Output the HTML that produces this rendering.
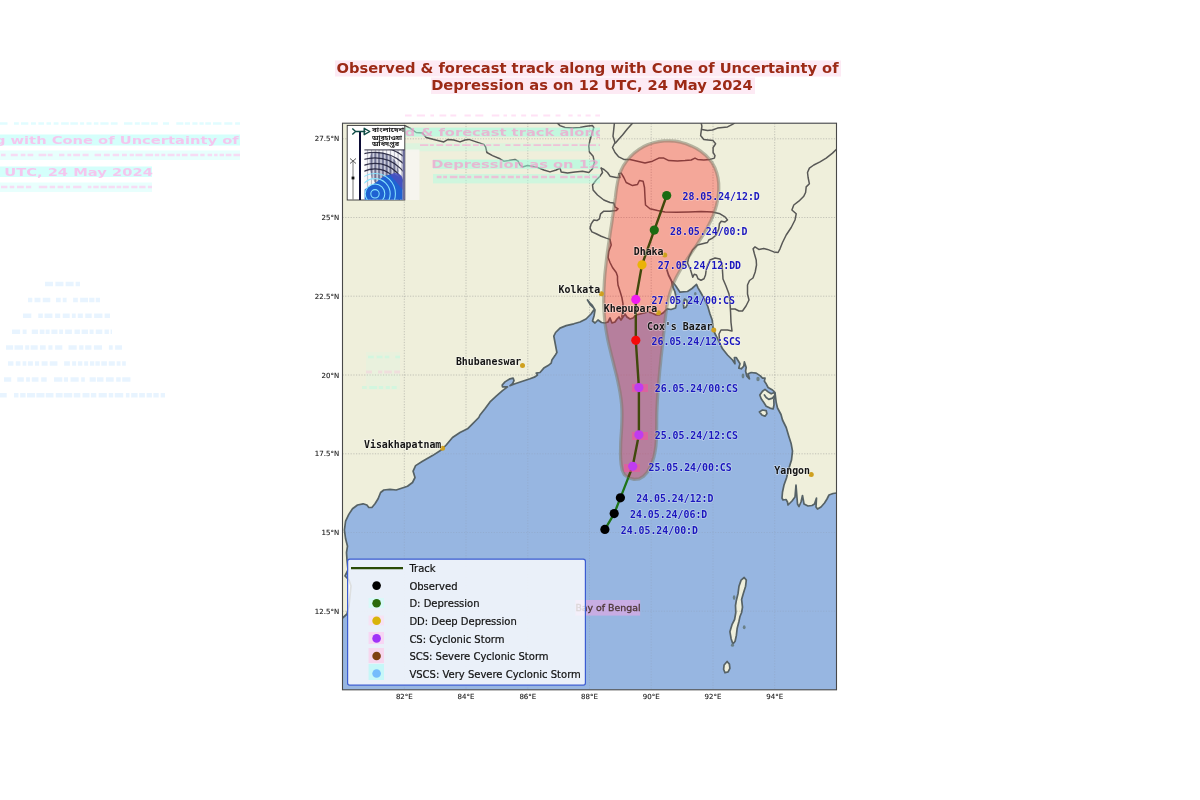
<!DOCTYPE html>
<html lang="en">
<head>
<meta charset="utf-8">
<title>Observed &amp; forecast track along with Cone of Uncertainty</title>
<style>
html,body{margin:0;padding:0;background:#fff;}
body{width:1200px;height:800px;overflow:hidden;}
svg{display:block;}
.title{font-family:'DejaVu Sans','Liberation Sans',sans-serif;font-weight:bold;font-size:14.7px;fill:#9c2a16;text-anchor:middle;}
.tick{font-family:'DejaVu Sans','Liberation Sans',sans-serif;font-size:7px;fill:#1c1c1c;stroke:#1c1c1c;stroke-width:0.12px;}
.lab{font-family:'DejaVu Sans Mono','Liberation Mono',monospace;font-weight:bold;font-size:9.9px;fill:#1a16be;stroke:#fff;stroke-opacity:0.35;stroke-width:1.4px;stroke-linejoin:round;paint-order:stroke;}
.city{font-family:'DejaVu Sans Mono','Liberation Mono',monospace;font-weight:bold;font-size:9.9px;fill:#141414;stroke:#fff;stroke-opacity:0.45;stroke-width:1.4px;stroke-linejoin:round;paint-order:stroke;text-anchor:end;}
.leg{font-family:'DejaVu Sans','Liberation Sans',sans-serif;font-size:10px;fill:#111;stroke:#111;stroke-width:0.2px;}
.bay{font-family:'DejaVu Sans','Liberation Sans',sans-serif;font-size:9.4px;fill:#4c3636;stroke:#4c3636;stroke-width:0.3px;}
.bn{font-family:'Noto Sans Bengali','DejaVu Sans','Liberation Sans',sans-serif;font-size:5.4px;font-weight:bold;fill:#222;}
.ghost text{font-family:'DejaVu Sans','Liberation Sans',sans-serif;font-weight:bold;font-size:14.7px;}
.coast{fill:none;stroke:#566266;stroke-width:1.7;stroke-linejoin:round;stroke-linecap:round;}
.border{fill:none;stroke:#585856;stroke-width:1.5;stroke-linejoin:round;stroke-linecap:round;}
.grid{fill:none;stroke:#808080;stroke-width:0.8;stroke-dasharray:1.2 1.5;opacity:0.5;}
</style>
</head>
<body>
<svg width="1200" height="800" viewBox="0 0 1200 800">
<rect width="1200" height="800" fill="#fff"/>
<rect x="335" y="60.5" width="506" height="16" fill="#fdeaf4"/>
<rect x="431" y="77.5" width="324" height="16.5" fill="#fdeaf4"/>
<text class="title" x="587.5" y="73.3">Observed &amp; forecast track along with Cone of Uncertainty of</text>
<text class="title" x="592" y="90.3">Depression as on 12 UTC, 24 May 2024</text>
<defs><clipPath id="mapclip"><rect x="342.5" y="123.2" width="494.0" height="566.5999999999999"/></clipPath></defs>
<g clip-path="url(#mapclip)">
<rect x="342.5" y="123.2" width="494.0" height="566.5999999999999" fill="#97b6e1"/>
<path d="M342.5,123.2 L836.5,123.2 L836.5,493.0 L833.0,493.5 L829.0,495.0 L827.0,499.0 L824.5,503.0 L821.0,507.0 L817.5,509.0 L816.0,507.0 L816.5,498.0 L814.5,504.0 L812.0,505.5 L808.0,506.0 L804.0,504.0 L802.5,495.5 L801.0,502.0 L799.0,506.5 L797.5,504.0 L796.0,485.0 L795.0,497.0 L792.0,501.0 L788.0,505.0 L787.5,502.0 L786.0,499.5 L783.0,500.0 L782.0,498.0 L782.5,492.0 L784.0,485.0 L786.5,478.0 L789.0,468.0 L791.5,460.0 L792.5,451.2 L791.2,443.8 L788.8,436.2 L786.2,427.5 L782.5,420.0 L781.0,414.5 L777.5,408.0 L776.2,402.5 L775.6,397.5 L775.0,392.5 L772.5,390.0 L768.1,387.5 L766.2,383.8 L764.4,381.2 L765.0,378.1 L762.5,378.1 L760.0,375.6 L756.2,373.1 L751.2,372.5 L748.1,373.8 L749.4,378.8 L746.9,376.2 L745.6,371.2 L746.2,367.5 L744.4,361.9 L743.8,366.2 L741.2,368.8 L738.8,368.1 L740.0,363.8 L736.2,357.5 L734.4,357.5 L735.0,363.8 L732.5,360.0 L727.5,355.0 L722.5,348.8 L718.8,341.2 L714.4,332.5 L713.0,327.5 L712.2,320.0 L710.0,314.0 L707.8,306.5 L704.8,299.8 L701.0,293.0 L698.0,287.8 L696.5,284.4 L692.0,288.5 L687.5,291.5 L680.0,292.2 L675.5,285.5 L672.5,281.8 L672.5,286.2 L674.8,291.5 L676.2,297.5 L676.6,303.5 L675.5,308.0 L671.0,309.5 L667.2,308.8 L665.0,311.0 L663.0,313.0 L659.0,315.0 L656.0,315.0 L652.0,313.0 L648.0,312.0 L644.0,313.0 L640.0,314.0 L636.0,315.0 L633.0,318.0 L630.0,319.0 L627.0,317.0 L625.0,314.0 L623.0,317.0 L621.0,320.0 L619.0,317.0 L617.0,319.0 L615.0,322.0 L612.0,323.0 L610.0,318.0 L608.0,322.0 L605.0,323.0 L601.5,322.5 L598.0,320.0 L595.0,323.0 L592.5,321.0 L594.0,316.0 L595.0,310.0 L592.0,305.0 L589.5,302.5 L587.5,300.0 L590.5,305.0 L594.5,309.0 L591.0,314.0 L586.0,319.0 L580.0,322.0 L573.8,323.8 L566.2,325.6 L560.0,328.1 L555.6,332.5 L553.8,336.2 L555.0,342.5 L556.2,348.8 L556.9,352.5 L555.0,355.6 L551.9,360.0 L551.2,363.1 L548.1,365.6 L543.8,368.1 L540.0,372.5 L536.2,373.1 L537.5,375.0 L535.0,376.9 L530.0,378.8 L522.5,381.2 L515.0,383.8 L510.0,385.6 L512.5,383.8 L514.0,380.6 L513.1,378.1 L510.0,378.8 L505.0,381.9 L502.2,385.0 L502.5,386.9 L507.5,386.9 L502.5,390.6 L496.2,396.2 L490.0,401.9 L485.0,408.8 L480.0,415.0 L478.8,417.5 L472.5,423.8 L467.5,428.8 L460.0,432.5 L452.5,437.5 L446.2,445.0 L441.2,450.0 L432.5,455.6 L422.5,461.2 L415.6,465.6 L413.1,471.2 L415.0,477.5 L412.5,482.5 L407.5,486.2 L403.8,487.5 L396.2,490.0 L390.0,489.4 L383.8,490.0 L380.6,492.5 L378.1,498.8 L375.0,503.8 L371.9,507.5 L368.8,507.5 L366.9,505.0 L363.1,503.8 L357.5,505.0 L352.5,508.8 L348.8,514.4 L345.6,521.2 L344.4,530.0 L345.6,538.8 L347.5,546.2 L346.5,552.5 L347.0,560.0 L348.0,570.0 L345.0,576.0 L349.0,580.0 L351.0,586.0 L350.0,596.0 L349.0,606.0 L347.0,614.0 L342.5,618.0 L342.5,618.0Z" fill="#efefdb"/>
<path d="M744.2,577.5 L746.3,580.1 L745.6,586.2 L743.4,593.2 L741.6,599.4 L742.5,607.2 L741.6,612.5 L739.9,616.8 L739.0,621.2 L737.2,628.2 L736.4,635.2 L735.1,641.3 L732.9,644.0 L731.1,638.7 L729.9,631.7 L732.0,624.7 L734.6,619.5 L735.8,612.5 L735.5,605.5 L736.4,600.2 L738.1,593.2 L739.0,586.2 L741.1,580.1Z" fill="#efefdb"/>
<path d="M727.1,661.5 L729.4,664.1 L729.9,668.4 L728.1,671.9 L725.0,672.8 L723.6,669.3 L724.1,665.0Z" fill="#efefdb"/>
<path d="M765.0,389.4 L762.5,391.2 L759.8,395.0 L761.2,398.8 L763.8,402.5 L766.2,406.2 L770.0,408.1 L773.1,409.0 L774.0,405.0 L773.8,400.0 L775.0,395.0 L774.4,392.5 L771.2,393.8 L768.1,391.9Z" fill="#efefdb"/>
<path d="M759.4,411.9 L762.5,410.0 L766.2,410.6 L766.9,413.8 L765.0,416.2 L761.9,415.0Z" fill="#efefdb"/>
<path d="M684.5,299.0 L686.8,300.5 L687.5,304.2 L686.0,307.2 L683.8,308.0 L683.4,303.5Z" fill="#efefdb"/>
<path class="grid" d="M404.3,123.2 V689.8"/>
<path class="grid" d="M466.0,123.2 V689.8"/>
<path class="grid" d="M527.8,123.2 V689.8"/>
<path class="grid" d="M589.5,123.2 V689.8"/>
<path class="grid" d="M651.2,123.2 V689.8"/>
<path class="grid" d="M713.0,123.2 V689.8"/>
<path class="grid" d="M774.7,123.2 V689.8"/>
<path class="grid" d="M342.5,611.2 H836.5"/>
<path class="grid" d="M342.5,532.5 H836.5"/>
<path class="grid" d="M342.5,453.8 H836.5"/>
<path class="grid" d="M342.5,375.0 H836.5"/>
<path class="grid" d="M342.5,296.2 H836.5"/>
<path class="grid" d="M342.5,217.5 H836.5"/>
<path class="grid" d="M342.5,138.8 H836.5"/>
<path d="M342.5,123.2 H836.5 V689.8 H342.5 Z M342.5,123.2 L836.5,123.2 L836.5,493.0 L833.0,493.5 L829.0,495.0 L827.0,499.0 L824.5,503.0 L821.0,507.0 L817.5,509.0 L816.0,507.0 L816.5,498.0 L814.5,504.0 L812.0,505.5 L808.0,506.0 L804.0,504.0 L802.5,495.5 L801.0,502.0 L799.0,506.5 L797.5,504.0 L796.0,485.0 L795.0,497.0 L792.0,501.0 L788.0,505.0 L787.5,502.0 L786.0,499.5 L783.0,500.0 L782.0,498.0 L782.5,492.0 L784.0,485.0 L786.5,478.0 L789.0,468.0 L791.5,460.0 L792.5,451.2 L791.2,443.8 L788.8,436.2 L786.2,427.5 L782.5,420.0 L781.0,414.5 L777.5,408.0 L776.2,402.5 L775.6,397.5 L775.0,392.5 L772.5,390.0 L768.1,387.5 L766.2,383.8 L764.4,381.2 L765.0,378.1 L762.5,378.1 L760.0,375.6 L756.2,373.1 L751.2,372.5 L748.1,373.8 L749.4,378.8 L746.9,376.2 L745.6,371.2 L746.2,367.5 L744.4,361.9 L743.8,366.2 L741.2,368.8 L738.8,368.1 L740.0,363.8 L736.2,357.5 L734.4,357.5 L735.0,363.8 L732.5,360.0 L727.5,355.0 L722.5,348.8 L718.8,341.2 L714.4,332.5 L713.0,327.5 L712.2,320.0 L710.0,314.0 L707.8,306.5 L704.8,299.8 L701.0,293.0 L698.0,287.8 L696.5,284.4 L692.0,288.5 L687.5,291.5 L680.0,292.2 L675.5,285.5 L672.5,281.8 L672.5,286.2 L674.8,291.5 L676.2,297.5 L676.6,303.5 L675.5,308.0 L671.0,309.5 L667.2,308.8 L665.0,311.0 L663.0,313.0 L659.0,315.0 L656.0,315.0 L652.0,313.0 L648.0,312.0 L644.0,313.0 L640.0,314.0 L636.0,315.0 L633.0,318.0 L630.0,319.0 L627.0,317.0 L625.0,314.0 L623.0,317.0 L621.0,320.0 L619.0,317.0 L617.0,319.0 L615.0,322.0 L612.0,323.0 L610.0,318.0 L608.0,322.0 L605.0,323.0 L601.5,322.5 L598.0,320.0 L595.0,323.0 L592.5,321.0 L594.0,316.0 L595.0,310.0 L592.0,305.0 L589.5,302.5 L587.5,300.0 L590.5,305.0 L594.5,309.0 L591.0,314.0 L586.0,319.0 L580.0,322.0 L573.8,323.8 L566.2,325.6 L560.0,328.1 L555.6,332.5 L553.8,336.2 L555.0,342.5 L556.2,348.8 L556.9,352.5 L555.0,355.6 L551.9,360.0 L551.2,363.1 L548.1,365.6 L543.8,368.1 L540.0,372.5 L536.2,373.1 L537.5,375.0 L535.0,376.9 L530.0,378.8 L522.5,381.2 L515.0,383.8 L510.0,385.6 L512.5,383.8 L514.0,380.6 L513.1,378.1 L510.0,378.8 L505.0,381.9 L502.2,385.0 L502.5,386.9 L507.5,386.9 L502.5,390.6 L496.2,396.2 L490.0,401.9 L485.0,408.8 L480.0,415.0 L478.8,417.5 L472.5,423.8 L467.5,428.8 L460.0,432.5 L452.5,437.5 L446.2,445.0 L441.2,450.0 L432.5,455.6 L422.5,461.2 L415.6,465.6 L413.1,471.2 L415.0,477.5 L412.5,482.5 L407.5,486.2 L403.8,487.5 L396.2,490.0 L390.0,489.4 L383.8,490.0 L380.6,492.5 L378.1,498.8 L375.0,503.8 L371.9,507.5 L368.8,507.5 L366.9,505.0 L363.1,503.8 L357.5,505.0 L352.5,508.8 L348.8,514.4 L345.6,521.2 L344.4,530.0 L345.6,538.8 L347.5,546.2 L346.5,552.5 L347.0,560.0 L348.0,570.0 L345.0,576.0 L349.0,580.0 L351.0,586.0 L350.0,596.0 L349.0,606.0 L347.0,614.0 L342.5,618.0 L342.5,618.0Z M744.2,577.5 L746.3,580.1 L745.6,586.2 L743.4,593.2 L741.6,599.4 L742.5,607.2 L741.6,612.5 L739.9,616.8 L739.0,621.2 L737.2,628.2 L736.4,635.2 L735.1,641.3 L732.9,644.0 L731.1,638.7 L729.9,631.7 L732.0,624.7 L734.6,619.5 L735.8,612.5 L735.5,605.5 L736.4,600.2 L738.1,593.2 L739.0,586.2 L741.1,580.1ZM727.1,661.5 L729.4,664.1 L729.9,668.4 L728.1,671.9 L725.0,672.8 L723.6,669.3 L724.1,665.0ZM765.0,389.4 L762.5,391.2 L759.8,395.0 L761.2,398.8 L763.8,402.5 L766.2,406.2 L770.0,408.1 L773.1,409.0 L774.0,405.0 L773.8,400.0 L775.0,395.0 L774.4,392.5 L771.2,393.8 L768.1,391.9ZM759.4,411.9 L762.5,410.0 L766.2,410.6 L766.9,413.8 L765.0,416.2 L761.9,415.0ZM684.5,299.0 L686.8,300.5 L687.5,304.2 L686.0,307.2 L683.8,308.0 L683.4,303.5Z" fill="#97b6e1" fill-rule="evenodd" fill-opacity="0.6"/>
<path class="coast" d="M836.5,493.0 L833.0,493.5 L829.0,495.0 L827.0,499.0 L824.5,503.0 L821.0,507.0 L817.5,509.0 L816.0,507.0 L816.5,498.0 L814.5,504.0 L812.0,505.5 L808.0,506.0 L804.0,504.0 L802.5,495.5 L801.0,502.0 L799.0,506.5 L797.5,504.0 L796.0,485.0 L795.0,497.0 L792.0,501.0 L788.0,505.0 L787.5,502.0 L786.0,499.5 L783.0,500.0 L782.0,498.0 L782.5,492.0 L784.0,485.0 L786.5,478.0 L789.0,468.0 L791.5,460.0 L792.5,451.2 L791.2,443.8 L788.8,436.2 L786.2,427.5 L782.5,420.0 L781.0,414.5 L777.5,408.0 L776.2,402.5 L775.6,397.5 L775.0,392.5 L772.5,390.0 L768.1,387.5 L766.2,383.8 L764.4,381.2 L765.0,378.1 L762.5,378.1 L760.0,375.6 L756.2,373.1 L751.2,372.5 L748.1,373.8 L749.4,378.8 L746.9,376.2 L745.6,371.2 L746.2,367.5 L744.4,361.9 L743.8,366.2 L741.2,368.8 L738.8,368.1 L740.0,363.8 L736.2,357.5 L734.4,357.5 L735.0,363.8 L732.5,360.0 L727.5,355.0 L722.5,348.8 L718.8,341.2 L714.4,332.5 L713.0,327.5 L712.2,320.0 L710.0,314.0 L707.8,306.5 L704.8,299.8 L701.0,293.0 L698.0,287.8 L696.5,284.4 L692.0,288.5 L687.5,291.5 L680.0,292.2 L675.5,285.5 L672.5,281.8 L672.5,286.2 L674.8,291.5 L676.2,297.5 L676.6,303.5 L675.5,308.0 L671.0,309.5 L667.2,308.8 L665.0,311.0 L663.0,313.0 L659.0,315.0 L656.0,315.0 L652.0,313.0 L648.0,312.0 L644.0,313.0 L640.0,314.0 L636.0,315.0 L633.0,318.0 L630.0,319.0 L627.0,317.0 L625.0,314.0 L623.0,317.0 L621.0,320.0 L619.0,317.0 L617.0,319.0 L615.0,322.0 L612.0,323.0 L610.0,318.0 L608.0,322.0 L605.0,323.0 L601.5,322.5 L598.0,320.0 L595.0,323.0 L592.5,321.0 L594.0,316.0 L595.0,310.0 L592.0,305.0 L589.5,302.5 L587.5,300.0 L590.5,305.0 L594.5,309.0 L591.0,314.0 L586.0,319.0 L580.0,322.0 L573.8,323.8 L566.2,325.6 L560.0,328.1 L555.6,332.5 L553.8,336.2 L555.0,342.5 L556.2,348.8 L556.9,352.5 L555.0,355.6 L551.9,360.0 L551.2,363.1 L548.1,365.6 L543.8,368.1 L540.0,372.5 L536.2,373.1 L537.5,375.0 L535.0,376.9 L530.0,378.8 L522.5,381.2 L515.0,383.8 L510.0,385.6 L512.5,383.8 L514.0,380.6 L513.1,378.1 L510.0,378.8 L505.0,381.9 L502.2,385.0 L502.5,386.9 L507.5,386.9 L502.5,390.6 L496.2,396.2 L490.0,401.9 L485.0,408.8 L480.0,415.0 L478.8,417.5 L472.5,423.8 L467.5,428.8 L460.0,432.5 L452.5,437.5 L446.2,445.0 L441.2,450.0 L432.5,455.6 L422.5,461.2 L415.6,465.6 L413.1,471.2 L415.0,477.5 L412.5,482.5 L407.5,486.2 L403.8,487.5 L396.2,490.0 L390.0,489.4 L383.8,490.0 L380.6,492.5 L378.1,498.8 L375.0,503.8 L371.9,507.5 L368.8,507.5 L366.9,505.0 L363.1,503.8 L357.5,505.0 L352.5,508.8 L348.8,514.4 L345.6,521.2 L344.4,530.0 L345.6,538.8 L347.5,546.2 L346.5,552.5 L347.0,560.0 L348.0,570.0 L345.0,576.0 L349.0,580.0 L351.0,586.0 L350.0,596.0 L349.0,606.0 L347.0,614.0 L342.5,618.0"/>
<path class="coast" d="M744.2,577.5 L746.3,580.1 L745.6,586.2 L743.4,593.2 L741.6,599.4 L742.5,607.2 L741.6,612.5 L739.9,616.8 L739.0,621.2 L737.2,628.2 L736.4,635.2 L735.1,641.3 L732.9,644.0 L731.1,638.7 L729.9,631.7 L732.0,624.7 L734.6,619.5 L735.8,612.5 L735.5,605.5 L736.4,600.2 L738.1,593.2 L739.0,586.2 L741.1,580.1Z"/>
<path class="coast" d="M727.1,661.5 L729.4,664.1 L729.9,668.4 L728.1,671.9 L725.0,672.8 L723.6,669.3 L724.1,665.0Z"/>
<path class="coast" d="M765.0,389.4 L762.5,391.2 L759.8,395.0 L761.2,398.8 L763.8,402.5 L766.2,406.2 L770.0,408.1 L773.1,409.0 L774.0,405.0 L773.8,400.0 L775.0,395.0 L774.4,392.5 L771.2,393.8 L768.1,391.9Z"/>
<path class="coast" d="M759.4,411.9 L762.5,410.0 L766.2,410.6 L766.9,413.8 L765.0,416.2 L761.9,415.0Z"/>
<path class="coast" d="M684.5,299.0 L686.8,300.5 L687.5,304.2 L686.0,307.2 L683.8,308.0 L683.4,303.5Z"/>
<ellipse cx="734.1" cy="597.6" rx="1.3" ry="2.4" fill="#6a8088"/>
<ellipse cx="744.2" cy="627.3" rx="1.4" ry="2.0" fill="#6a8088"/>
<ellipse cx="732.5" cy="645.2" rx="1.6" ry="1.6" fill="#6a8088"/>
<ellipse cx="743" cy="376" rx="1.4" ry="2.4" fill="#6a8088"/>
<ellipse cx="758" cy="379" rx="1.7" ry="2.2" fill="#6a8088"/>
<ellipse cx="695.3" cy="293.7" rx="1.3" ry="1.6" fill="#6a8088"/>
<path class="coast" d="M764.4,395.0 L766.2,397.5 L768.8,399.4 L772.5,398.1 L775.0,395.0"/>
<path class="coast" d="M673.0,287.0 L671.5,281.0 L668.5,275.0 L666.5,268.5" stroke-width="1.8"/>
<path class="border" d="M405.0,125.6 L410.0,128.1 L416.2,132.5 L422.5,133.1 L426.2,137.5 L433.8,139.4 L443.8,141.9 L448.1,139.4 L453.8,140.0 L460.0,141.9 L465.0,140.0 L468.8,139.4 L476.2,141.9 L483.8,144.4 L485.6,146.9 L486.9,152.5 L492.5,155.6 L500.0,158.8 L503.8,161.2 L508.8,160.6 L515.0,159.4 L518.1,161.2 L520.0,165.0 L522.5,166.9 L527.5,165.6 L536.2,166.9 L543.8,170.0 L550.0,171.9 L556.2,170.0 L560.0,168.1 L561.2,171.9 L567.5,173.1 L575.0,171.9 L582.5,171.2 L588.8,172.5 L592.5,168.8 L594.4,162.5 L593.1,156.2 L589.4,151.9 L588.8,146.2 L590.0,140.0 L591.9,133.8 L593.8,127.5 L592.5,125.6 L586.2,126.2 L580.0,127.5 L572.5,128.1 L565.0,127.5 L560.0,125.6 L557.5,123.2"/>
<path class="border" d="M614.4,123.2 L613.8,128.8 L613.0,136.2 L615.0,142.5 L612.5,147.5 L615.0,152.5 L618.8,156.9 L623.8,159.4 L630.0,159.4 L637.5,161.2 L645.0,163.1 L652.5,161.2 L658.8,158.1 L663.8,158.1 L668.8,160.6 L677.5,161.0 L685.0,160.6 L691.2,160.0 L695.0,158.1 L697.5,159.4 L703.8,160.0 L710.0,159.4 L714.4,158.1 L715.0,155.6 L713.1,152.5 L713.1,147.5 L715.6,143.8 L713.1,140.6 L708.1,140.0 L703.8,139.4 L700.6,135.6 L701.2,131.2 L701.9,126.2 L701.2,123.2"/>
<path class="border" d="M615.5,143.0 L618.0,140.0 L622.5,135.0 L627.5,128.8 L632.5,123.2"/>
<path class="border" d="M701.9,129.4 L707.5,130.6 L712.5,130.0 L717.5,128.1 L722.5,127.5 L727.5,126.9 L732.5,124.4 L734.4,123.2"/>
<path class="border" d="M601.2,168.1 L602.5,172.5 L600.0,176.2 L596.2,180.0 L592.5,185.0 L593.1,190.0 L597.5,195.0 L603.8,200.0 L610.0,202.5 L613.8,203.1 L615.0,206.9 L618.1,208.8 L616.2,210.6 L610.0,211.2 L603.8,211.2 L600.6,213.8 L599.4,218.8 L596.9,220.6 L593.8,220.0 L591.2,223.8 L590.0,228.1 L591.9,231.9 L596.2,233.8 L601.2,236.2 L606.2,238.1 L610.0,239.4 L611.2,245.0 L608.8,251.2 L608.1,257.5 L610.0,262.5 L612.5,267.5 L616.2,272.5 L617.5,276.2 L617.5,280.0 L618.0,285.0 L620.0,291.2 L621.9,297.5 L623.0,303.8 L622.5,310.0 L621.9,317.0"/>
<path class="border" d="M601.2,168.1 L604.0,169.5 L607.5,172.5 L610.0,176.2 L616.2,177.5 L620.0,177.5 L618.8,173.8 L621.2,173.1 L623.8,177.5 L626.2,182.5 L632.5,185.6 L637.5,184.5 L639.4,180.5 L643.1,181.2 L644.5,187.5 L645.0,197.5 L645.5,205.0 L650.0,208.8 L657.5,210.6 L665.0,211.9 L676.2,212.2 L688.8,211.9 L701.2,211.5 L712.5,211.9 L720.0,213.8 L725.0,216.9 L727.5,220.0 L725.0,221.9 L721.2,221.2 L719.4,223.8 L718.8,228.8 L716.2,235.0 L712.5,238.1 L708.8,240.0 L707.5,242.5 L702.5,243.8 L697.5,245.0 L692.5,250.0 L688.8,257.5 L687.5,263.0 L690.5,269.8 L692.8,277.2 L694.2,274.2 L696.5,275.0 L698.0,278.8 L701.0,280.2 L704.0,278.8 L705.5,275.0 L706.2,269.8 L707.8,264.5 L710.0,260.0 L715.0,258.0 L720.0,259.0 L722.0,264.0 L722.5,271.0 L723.0,279.0 L726.0,286.0 L729.0,294.0 L730.0,302.5 L730.6,312.5 L731.0,322.5 L732.0,331.0 L727.5,330.0 L721.0,330.0 L719.0,334.0 L719.5,340.0"/>
<path class="border" d="M836.5,149.2 L832.5,153.1 L826.2,158.1 L820.0,161.9 L813.8,165.0 L809.4,168.1 L807.5,172.5 L808.1,177.5 L809.4,183.8 L806.2,186.9 L805.6,192.5 L803.8,196.2 L798.8,201.2 L793.8,205.0 L791.9,210.0 L796.2,213.8 L795.0,220.0 L791.2,227.5 L786.2,235.0 L782.5,242.5 L780.0,248.8 L778.1,252.5 L773.8,251.9 L767.5,249.4 L763.8,248.5 L758.8,249.4 L755.0,246.9 L753.1,248.8 L754.4,253.8 L756.2,260.0 L756.5,265.0 L755.2,272.0 L753.0,278.0 L749.5,280.5 L747.5,285.0 L747.5,294.0 L749.0,300.0 L746.0,306.0 L742.5,311.0 L739.0,311.0 L735.0,309.0 L731.0,309.0"/>
<path d="M615.4,197.3 L614.6,202.8 L613.9,208.3 L613.1,213.8 L612.3,219.3 L611.5,224.7 L610.6,230.2 L609.8,235.7 L609.0,241.2 L608.2,246.7 L607.4,252.2 L606.7,257.7 L606.1,263.2 L605.5,268.6 L604.9,274.1 L604.5,279.6 L604.2,285.1 L603.9,290.5 L603.8,296.0 L603.7,301.4 L603.8,306.9 L604.1,312.3 L604.5,317.8 L605.0,323.2 L605.8,328.6 L606.7,334.0 L607.7,339.4 L608.9,344.8 L610.2,350.2 L611.5,355.6 L612.9,361.0 L614.2,366.4 L615.6,371.8 L616.9,377.2 L618.1,382.6 L619.2,388.0 L620.2,393.4 L621.0,398.9 L621.6,404.4 L621.9,409.8 L622.0,415.3 L621.9,420.8 L621.7,426.3 L621.4,431.9 L621.0,437.4 L620.7,442.9 L620.6,448.4 L620.5,453.9 L620.7,459.4 L621.2,464.8 L622.2,470.1 L624.4,474.8 L628.8,478.0 L634.2,479.4 L639.2,478.8 L643.5,476.3 L647.1,472.5 L649.9,467.7 L652.2,462.3 L653.9,456.9 L655.1,451.4 L655.9,446.0 L656.3,440.4 L656.6,434.9 L656.6,429.4 L656.7,423.9 L656.7,418.4 L656.8,412.9 L657.0,407.4 L657.3,401.9 L657.6,396.5 L658.0,391.0 L658.4,385.5 L658.9,380.1 L659.4,374.6 L659.9,369.2 L660.5,363.7 L661.0,358.2 L661.6,352.8 L662.2,347.3 L662.8,341.8 L663.4,336.2 L664.0,330.7 L664.6,325.1 L665.1,319.6 L665.8,314.1 L666.6,308.6 L667.5,303.1 L668.7,297.8 L670.1,292.5 L671.8,287.4 L673.9,282.4 L676.2,277.5 L678.8,272.7 L681.5,268.0 L684.4,263.3 L687.5,258.7 L690.5,254.1 L693.7,249.4 L696.8,244.8 L699.8,240.2 L702.8,235.5 L705.6,230.7 L708.3,225.9 L710.8,220.9 L713.0,215.9 L714.9,210.7 L716.5,205.4 L717.7,199.9 L718.5,194.3 L718.8,188.8 L718.7,183.3 L718.0,177.9 L716.7,172.7 L714.9,167.7 L712.3,163.1 L709.1,158.8 L705.4,154.9 L701.1,151.4 L696.4,148.4 L691.3,145.9 L686.0,143.8 L680.6,142.2 L675.0,141.2 L669.5,140.8 L664.0,140.9 L658.6,141.6 L653.3,142.8 L648.1,144.5 L643.2,146.8 L638.5,149.7 L634.0,153.1 L630.0,157.0 L626.4,161.3 L623.3,165.9 L620.9,170.8 L619.1,175.9 L617.8,181.1 L616.8,186.5 L616.0,191.9Z" fill="#ff0000" fill-opacity="0.3"/>
<path d="M615.4,197.3 L614.6,202.8 L613.9,208.3 L613.1,213.8 L612.3,219.3 L611.5,224.7 L610.6,230.2 L609.8,235.7 L609.0,241.2 L608.2,246.7 L607.4,252.2 L606.7,257.7 L606.1,263.2 L605.5,268.6 L604.9,274.1 L604.5,279.6 L604.2,285.1 L603.9,290.5 L603.8,296.0 L603.7,301.4 L603.8,306.9 L604.1,312.3 L604.5,317.8 L605.0,323.2 L605.8,328.6 L606.7,334.0 L607.7,339.4 L608.9,344.8 L610.2,350.2 L611.5,355.6 L612.9,361.0 L614.2,366.4 L615.6,371.8 L616.9,377.2 L618.1,382.6 L619.2,388.0 L620.2,393.4 L621.0,398.9 L621.6,404.4 L621.9,409.8 L622.0,415.3 L621.9,420.8 L621.7,426.3 L621.4,431.9 L621.0,437.4 L620.7,442.9 L620.6,448.4 L620.5,453.9 L620.7,459.4 L621.2,464.8 L622.2,470.1 L624.4,474.8 L628.8,478.0 L634.2,479.4 L639.2,478.8 L643.5,476.3 L647.1,472.5 L649.9,467.7 L652.2,462.3 L653.9,456.9 L655.1,451.4 L655.9,446.0 L656.3,440.4 L656.6,434.9 L656.6,429.4 L656.7,423.9 L656.7,418.4 L656.8,412.9 L657.0,407.4 L657.3,401.9 L657.6,396.5 L658.0,391.0 L658.4,385.5 L658.9,380.1 L659.4,374.6 L659.9,369.2 L660.5,363.7 L661.0,358.2 L661.6,352.8 L662.2,347.3 L662.8,341.8 L663.4,336.2 L664.0,330.7 L664.6,325.1 L665.1,319.6 L665.8,314.1 L666.6,308.6 L667.5,303.1 L668.7,297.8 L670.1,292.5 L671.8,287.4 L673.9,282.4 L676.2,277.5 L678.8,272.7 L681.5,268.0 L684.4,263.3 L687.5,258.7 L690.5,254.1 L693.7,249.4 L696.8,244.8 L699.8,240.2 L702.8,235.5 L705.6,230.7 L708.3,225.9 L710.8,220.9 L713.0,215.9 L714.9,210.7 L716.5,205.4 L717.7,199.9 L718.5,194.3 L718.8,188.8 L718.7,183.3 L718.0,177.9 L716.7,172.7 L714.9,167.7 L712.3,163.1 L709.1,158.8 L705.4,154.9 L701.1,151.4 L696.4,148.4 L691.3,145.9 L686.0,143.8 L680.6,142.2 L675.0,141.2 L669.5,140.8 L664.0,140.9 L658.6,141.6 L653.3,142.8 L648.1,144.5 L643.2,146.8 L638.5,149.7 L634.0,153.1 L630.0,157.0 L626.4,161.3 L623.3,165.9 L620.9,170.8 L619.1,175.9 L617.8,181.1 L616.8,186.5 L616.0,191.9Z" fill="none" stroke="#7a7866" stroke-opacity="0.5" stroke-width="3.2" stroke-linejoin="round"/>
<path d="M604.9,529.4 L614.2,513.6 L620.4,497.8 L628.4,477.3" fill="none" stroke="#1f7418" stroke-width="2.3" stroke-linejoin="round"/>
<path d="M628.4,477.3 L632.7,466.3 L638.9,434.8 L638.9,387.6 L635.8,340.3 L635.8,299.4 L642.0,264.8 L654.3,230.1 L666.7,195.5" fill="none" stroke="#40480c" stroke-width="2.4" stroke-linejoin="round"/>
<rect x="632" y="384" width="16" height="8" fill="#f4509e" opacity="0.6"/>
<rect x="632" y="432" width="16" height="8" fill="#f4509e" opacity="0.6"/>
<rect x="624" y="464" width="16" height="8" fill="#f4509e" opacity="0.6"/>
<circle cx="604.9" cy="529.4" r="4.6" fill="#000000"/>
<circle cx="614.2" cy="513.6" r="4.6" fill="#000000"/>
<circle cx="620.4" cy="497.8" r="4.6" fill="#000000"/>
<circle cx="632.7" cy="466.3" r="4.6" fill="#c03cf0"/>
<circle cx="638.9" cy="434.8" r="4.6" fill="#c03cf0"/>
<circle cx="638.9" cy="387.6" r="4.6" fill="#c03cf0"/>
<circle cx="635.8" cy="340.3" r="4.6" fill="#f50a0a"/>
<circle cx="635.8" cy="299.4" r="4.6" fill="#f01cf0"/>
<circle cx="642.0" cy="264.8" r="4.6" fill="#eab308"/>
<circle cx="654.3" cy="230.1" r="4.6" fill="#1b6b12"/>
<circle cx="666.7" cy="195.5" r="4.6" fill="#1b6b12"/>
<circle cx="664.75" cy="255" r="2.5" fill="#cfa01e"/>
<circle cx="601.4" cy="293.7" r="2.5" fill="#cfa01e"/>
<circle cx="522.5" cy="365.6" r="2.5" fill="#cfa01e"/>
<circle cx="442.5" cy="448.3" r="2.5" fill="#cfa01e"/>
<circle cx="811.25" cy="474.4" r="2.5" fill="#cfa01e"/>
<circle cx="713.75" cy="330" r="2.5" fill="#cfa01e"/>
<circle cx="658.5" cy="312.8" r="2.5" fill="#cfa01e"/>
<rect x="575.4" y="600" width="64.8" height="15.6" fill="#e9a6e4" opacity="0.6"/>
<text class="bay" x="575.4" y="610.9">Bay of Bengal</text>
<g>
<text class="city" x="663.5" y="254.6">Dhaka</text>
<text class="city" x="600.2" y="293.3">Kolkata</text>
<text class="city" x="521.3" y="365.2">Bhubaneswar</text>
<text class="city" x="441.3" y="447.9">Visakhapatnam</text>
<text class="city" x="810.0" y="474.0">Yangon</text>
<text class="city" x="712.5" y="329.6">Cox's Bazar</text>
<text class="city" x="657.3" y="312.4">Khepupara</text>
<text class="lab" x="620.7" y="533.8">24.05.24/00:D</text>
<text class="lab" x="630.0" y="518.0">24.05.24/06:D</text>
<text class="lab" x="636.2" y="502.2">24.05.24/12:D</text>
<text class="lab" x="648.5" y="470.7">25.05.24/00:CS</text>
<text class="lab" x="654.7" y="439.2">25.05.24/12:CS</text>
<text class="lab" x="654.7" y="392.0">26.05.24/00:CS</text>
<text class="lab" x="651.6" y="344.7">26.05.24/12:SCS</text>
<text class="lab" x="651.6" y="303.8">27.05.24/00:CS</text>
<text class="lab" x="657.8" y="269.1">27.05.24/12:DD</text>
<text class="lab" x="670.1" y="234.5">28.05.24/00:D</text>
<text class="lab" x="682.5" y="199.9">28.05.24/12:D</text>
</g>
<g id="ghost-map">
<clipPath id="gc1"><rect x="405" y="123.5" width="195" height="62"/></clipPath>
<rect x="405" y="127.6" width="195" height="9" fill="#9dffe0" opacity="0.55"/>
<rect x="405" y="143.2" width="195" height="8" fill="#b4ffe6" opacity="0.3"/>
<path d="M420.0,145.2 H428.3 M429.9,145.2 H433.8 M436.4,145.2 H443.2 M445.7,145.2 H452.2 M453.9,145.2 H459.6 M462.2,145.2 H470.6 M473.0,145.2 H478.7 M480.2,145.2 H483.9 M485.8,145.2 H491.2 M493.5,145.2 H499.8 M505.4,145.2 H510.5 M513.5,145.2 H520.4 M523.2,145.2 H530.7 M533.6,145.2 H540.9 M542.9,145.2 H551.3 M553.1,145.2 H560.3 M562.5,145.2 H568.7 M571.6,145.2 H577.6 M579.6,145.2 H587.5 M589.7,145.2 H596.0 M598.6,145.2 H600.0" stroke="#ff9ed2" stroke-width="1.8" opacity="0.6" fill="none"/>
<rect x="433" y="159.6" width="167" height="9.2" fill="#9dffe0" opacity="0.55"/>
<rect x="433" y="174" width="167" height="9.4" fill="#a8ffe2" opacity="0.45"/>
<path d="M436.8,177 H441.5 M443.2,177 H447.0 M449.9,177 H457.4 M459.2,177 H465.4 M467.2,177 H471.2 M474.1,177 H481.8 M484.5,177 H488.9 M491.4,177 H498.5 M501.3,177 H505.3 M507.8,177 H513.8 M516.0,177 H520.0 M522.8,177 H529.0 M531.9,177 H538.2 M541.0,177 H547.0 M549.4,177 H555.1 M560.2,177 H567.7 M570.2,177 H575.1 M577.3,177 H582.5 M584.3,177 H589.8 M592.3,177 H597.2 M599.8,177 H600.0" stroke="#ff9ed2" stroke-width="2.4" opacity="0.6" fill="none"/>
<g clip-path="url(#gc1)" class="ghost" aria-hidden="true">
<text transform="translate(587.5,136.2) scale(1,0.74)" text-anchor="middle" fill="#ff8fcb" opacity="0.6">Observed &amp; forecast track along with Cone of Uncertainty of</text>
<text transform="translate(592,168.3) scale(1,0.74)" text-anchor="middle" fill="#ff8fcb" opacity="0.6">Depression as on 12 UTC, 24 May 2024</text>
</g>
<rect x="366" y="352" width="34" height="38" fill="#c8ffe8" opacity="0.14"/>
<path d="M368.0,357 H373.8 M376.6,357 H382.5 M384.9,357 H389.3 M395.3,357 H400.0" stroke="#a8ffe2" stroke-width="2.5" opacity="0.35" fill="none"/>
<path d="M366.0,372 H371.9 M378.1,372 H382.3 M384.2,372 H391.8 M394.2,372 H400.0" stroke="#ffb4dc" stroke-width="3" opacity="0.3" fill="none"/>
<path d="M362.0,387.5 H366.8 M369.3,387.5 H377.1 M378.9,387.5 H383.1 M385.8,387.5 H389.9 M391.7,387.5 H396.7" stroke="#a8ffe2" stroke-width="3" opacity="0.35" fill="none"/>
</g>
</g>
<rect x="342.5" y="123.2" width="494.0" height="566.5999999999999" fill="none" stroke="#484848" stroke-width="1.1"/>
<g id="ghost-bg">
<path d="M405.0,115.5 H411.6 M416.8,115.5 H425.0 M430.4,115.5 H434.0 M439.5,115.5 H446.2 M450.4,115.5 H456.2 M464.5,115.5 H470.8 M475.3,115.5 H483.3 M491.8,115.5 H499.3 M503.5,115.5 H507.0 M511.3,115.5 H515.9 M521.2,115.5 H526.1 M531.0,115.5 H537.8 M543.3,115.5 H550.2 M555.6,115.5 H560.5 M568.4,115.5 H572.6 M577.5,115.5 H581.0 M585.6,115.5 H590.6 M595.3,115.5 H600.0" stroke="#ffc6ec" stroke-width="1.8" opacity="0.5" fill="none"/>
<path d="M0.0,123.5 H7.5 M14.0,123.5 H18.8 M21.0,123.5 H28.3 M31.0,123.5 H35.9 M38.4,123.5 H44.0 M46.5,123.5 H51.0 M53.7,123.5 H58.5 M61.1,123.5 H68.8 M70.4,123.5 H77.9 M80.1,123.5 H84.1 M86.5,123.5 H91.5 M93.9,123.5 H98.4 M100.4,123.5 H108.6 M110.8,123.5 H117.6 M124.0,123.5 H132.4 M134.8,123.5 H139.8 M141.4,123.5 H149.3 M151.0,123.5 H157.8 M163.0,123.5 H169.0 M176.3,123.5 H183.3 M184.8,123.5 H190.0 M192.4,123.5 H197.5 M199.5,123.5 H203.7 M205.3,123.5 H210.9 M213.0,123.5 H221.4 M224.3,123.5 H232.3 M235.1,123.5 H240.0" stroke="#cdfaff" stroke-width="2.6" opacity="0.6" fill="none"/>
<rect x="0" y="134.5" width="240" height="11" fill="#c6fffa" opacity="0.75"/>
<rect x="0" y="150.5" width="240" height="9.5" fill="#d8fffb" opacity="0.6"/>
<path d="M1.0,155 H5.6 M10.8,155 H17.8 M20.8,155 H25.4 M27.6,155 H33.3 M38.6,155 H46.3 M47.8,155 H52.6 M59.0,155 H64.4 M67.4,155 H71.2 M73.2,155 H80.1 M82.6,155 H88.6 M94.6,155 H101.0 M103.9,155 H109.8 M112.7,155 H119.1 M122.0,155 H126.9 M129.7,155 H133.9 M135.5,155 H142.5 M145.4,155 H153.1 M154.9,155 H159.2 M161.4,155 H165.3 M167.6,155 H174.6 M176.4,155 H180.0 M181.9,155 H187.5 M190.3,155 H198.2 M200.3,155 H204.6 M207.6,155 H212.1 M214.1,155 H217.6 M219.6,155 H224.0 M225.8,155 H231.4 M233.5,155 H240.0" stroke="#ffc8f0" stroke-width="2.6" opacity="0.65" fill="none"/>
<rect x="0" y="166.5" width="152" height="10.5" fill="#c6fffa" opacity="0.75"/>
<rect x="0" y="182.5" width="152" height="9.5" fill="#d8fffb" opacity="0.6"/>
<path d="M1.0,187 H7.4 M9.7,187 H14.3 M17.0,187 H23.8 M26.0,187 H31.2 M38.8,187 H47.3 M49.7,187 H55.1 M57.6,187 H63.4 M65.9,187 H70.1 M73.1,187 H81.4 M87.8,187 H91.4 M93.3,187 H98.7 M100.6,187 H106.9 M108.5,187 H114.9 M116.6,187 H121.2 M122.8,187 H128.8 M131.3,187 H137.4 M139.2,187 H145.5 M147.9,187 H152.0" stroke="#ffc8f0" stroke-width="2.6" opacity="0.65" fill="none"/>
<g class="ghost" aria-hidden="true">
<text transform="translate(-12.5,144.4) scale(1,0.74)" text-anchor="middle" fill="#ffb4ea" opacity="0.75">Observed &amp; forecast track along with Cone of Uncertainty of</text>
<text transform="translate(-8,176.3) scale(1,0.74)" text-anchor="middle" fill="#ffb4ea" opacity="0.75">Depression as on 12 UTC, 24 May 2024</text>
</g>
<path d="M45.0,284.0 H53.0 M55.4,284.0 H63.4 M65.6,284.0 H73.6 M75.6,284.0 H80.0" stroke="#e2f1ff" stroke-width="4.5" opacity="0.8" fill="none"/>
<path d="M28.0,299.9 H32.3 M34.5,299.9 H40.4 M42.8,299.9 H50.3 M56.0,299.9 H60.7 M62.8,299.9 H66.6 M73.1,299.9 H77.8 M80.1,299.9 H88.0 M89.2,299.9 H94.4 M95.8,299.9 H100.0" stroke="#e2f1ff" stroke-width="4.5" opacity="0.8" fill="none"/>
<path d="M23.0,315.8 H31.3 M38.3,315.8 H42.8 M44.5,315.8 H52.4 M55.1,315.8 H60.2 M62.8,315.8 H69.7 M71.9,315.8 H75.7 M77.8,315.8 H82.8 M85.3,315.8 H91.7 M94.1,315.8 H102.4 M104.6,315.8 H110.0" stroke="#e2f1ff" stroke-width="4.5" opacity="0.8" fill="none"/>
<path d="M12.0,331.7 H20.1 M22.7,331.7 H26.6 M31.8,331.7 H38.0 M39.8,331.7 H44.4 M45.7,331.7 H49.6 M51.4,331.7 H57.5 M59.2,331.7 H63.0 M65.1,331.7 H71.9 M74.5,331.7 H79.9 M81.6,331.7 H88.0 M89.6,331.7 H93.6 M95.8,331.7 H102.3 M104.5,331.7 H108.9 M110.6,331.7 H112.0" stroke="#e2f1ff" stroke-width="4.5" opacity="0.8" fill="none"/>
<path d="M6.0,347.6 H13.1 M14.5,347.6 H23.0 M25.2,347.6 H29.2 M30.6,347.6 H37.7 M40.0,347.6 H45.7 M48.4,347.6 H52.5 M55.1,347.6 H62.3 M68.5,347.6 H76.7 M79.2,347.6 H83.5 M85.2,347.6 H91.4 M93.9,347.6 H102.0 M108.9,347.6 H112.7 M115.1,347.6 H122.0" stroke="#e2f1ff" stroke-width="4.5" opacity="0.8" fill="none"/>
<path d="M8.0,363.5 H13.4 M15.8,363.5 H20.4 M22.6,363.5 H26.3 M27.9,363.5 H32.9 M35.0,363.5 H39.1 M41.6,363.5 H47.6 M49.8,363.5 H57.4 M64.1,363.5 H69.9 M72.1,363.5 H76.1 M77.9,363.5 H82.3 M84.2,363.5 H88.1 M90.0,363.5 H94.2 M95.4,363.5 H99.8 M101.3,363.5 H106.9 M108.8,363.5 H114.8 M116.7,363.5 H120.5 M122.1,363.5 H125.8" stroke="#e2f1ff" stroke-width="4.5" opacity="0.8" fill="none"/>
<path d="M4.0,379.4 H11.2 M17.3,379.4 H23.8 M26.1,379.4 H29.9 M31.8,379.4 H38.5 M41.2,379.4 H46.7 M54.0,379.4 H62.3 M63.9,379.4 H68.0 M70.5,379.4 H78.7 M81.2,379.4 H84.8 M89.6,379.4 H95.8 M97.0,379.4 H103.5 M105.9,379.4 H113.7 M116.2,379.4 H120.7 M122.2,379.4 H130.4" stroke="#e2f1ff" stroke-width="4.5" opacity="0.8" fill="none"/>
<path d="M0.0,395.3 H6.7 M14.0,395.3 H18.5 M20.2,395.3 H25.6 M27.0,395.3 H35.1 M36.4,395.3 H44.5 M45.8,395.3 H53.5 M55.8,395.3 H62.6 M63.8,395.3 H72.2 M73.8,395.3 H80.3 M82.5,395.3 H89.5 M90.9,395.3 H96.3 M98.7,395.3 H106.8 M108.8,395.3 H113.2 M114.8,395.3 H123.2 M125.9,395.3 H129.5 M131.2,395.3 H137.6 M139.2,395.3 H144.9 M146.6,395.3 H151.9 M153.4,395.3 H158.7 M160.7,395.3 H165.0" stroke="#e2f1ff" stroke-width="4.5" opacity="0.8" fill="none"/>
</g>
<g id="logo">
<rect x="405" y="149.5" width="14.5" height="50.5" fill="#f6f5f0" opacity="0.9"/>
<rect x="347.2" y="125.4" width="57.6" height="74.6" fill="#fff" stroke="#333" stroke-width="0.9"/>
<clipPath id="lg"><rect x="364.4" y="149.8" width="38.4" height="50"/></clipPath>
<g clip-path="url(#lg)">
<rect x="364.4" y="149.8" width="38.4" height="50" fill="#eeeef4"/>
<path d="M371,153.5 L377,151.5 L384,153 L391,156 L396.5,162 L398.5,171 L396,180 L391,187 L384,190 L377,186 L372,178 L369.5,168 L369,159 Z" fill="#8588a8"/>
<path d="M365.8,150 V200" stroke="#fff" stroke-width="1.5" opacity="0.6"/>
<path d="M369.6,150 V200" stroke="#fff" stroke-width="1.5" opacity="0.6"/>
<path d="M373.4,150 V200" stroke="#fff" stroke-width="1.5" opacity="0.6"/>
<path d="M377.2,150 V200" stroke="#fff" stroke-width="1.5" opacity="0.6"/>
<path d="M381.0,150 V200" stroke="#fff" stroke-width="1.5" opacity="0.6"/>
<path d="M384.8,150 V200" stroke="#fff" stroke-width="1.5" opacity="0.6"/>
<path d="M388.6,150 V200" stroke="#fff" stroke-width="1.5" opacity="0.6"/>
<path d="M392.4,150 V200" stroke="#fff" stroke-width="1.5" opacity="0.6"/>
<path d="M396.2,150 V200" stroke="#fff" stroke-width="1.5" opacity="0.6"/>
<path d="M400.0,150 V200" stroke="#fff" stroke-width="1.5" opacity="0.6"/>
<path d="M403.8,150 V200" stroke="#fff" stroke-width="1.5" opacity="0.6"/>
<path d="M367.7,150 V200" stroke="#2a2a44" stroke-width="0.5" opacity="0.55"/>
<path d="M371.5,150 V200" stroke="#2a2a44" stroke-width="0.5" opacity="0.55"/>
<path d="M375.3,150 V200" stroke="#2a2a44" stroke-width="0.5" opacity="0.55"/>
<path d="M379.1,150 V200" stroke="#2a2a44" stroke-width="0.5" opacity="0.55"/>
<path d="M382.9,150 V200" stroke="#2a2a44" stroke-width="0.5" opacity="0.55"/>
<path d="M386.7,150 V200" stroke="#2a2a44" stroke-width="0.5" opacity="0.55"/>
<path d="M390.5,150 V200" stroke="#2a2a44" stroke-width="0.5" opacity="0.55"/>
<path d="M394.3,150 V200" stroke="#2a2a44" stroke-width="0.5" opacity="0.55"/>
<path d="M398.1,150 V200" stroke="#2a2a44" stroke-width="0.5" opacity="0.55"/>
<path d="M401.9,150 V200" stroke="#2a2a44" stroke-width="0.5" opacity="0.55"/>
<circle cx="375" cy="193.8" r="25" fill="none" stroke="#20203a" stroke-width="1.2" opacity="0.9"/>
<circle cx="375" cy="193.8" r="30.5" fill="none" stroke="#20203a" stroke-width="1.2" opacity="0.9"/>
<circle cx="375" cy="193.8" r="36" fill="none" stroke="#20203a" stroke-width="1.2" opacity="0.9"/>
<circle cx="375" cy="193.8" r="41.5" fill="none" stroke="#20203a" stroke-width="1.2" opacity="0.9"/>
<circle cx="375" cy="193.8" r="47" fill="none" stroke="#20203a" stroke-width="1.2" opacity="0.9"/>
<path d="M364.4,200 V189.5 C370,186 374,184 378,181 C382,177 386,174.5 392,174.5 C397,174.5 401,177 402.8,180 V200 Z" fill="#1f62d2"/>
<path d="M390,175 C396,171 401,174 402.8,178 V190 C398,184 394,179 390,175 Z" fill="#4a50c0" opacity="0.85"/>
<circle cx="375" cy="193.8" r="4.2" fill="none" stroke="#86e4ff" stroke-width="1.05"/>
<circle cx="375" cy="193.8" r="9.8" fill="none" stroke="#86e4ff" stroke-width="1.05"/>
<circle cx="375" cy="193.8" r="15.2" fill="none" stroke="#86e4ff" stroke-width="1.05"/>
<circle cx="375" cy="193.8" r="20.4" fill="none" stroke="#86e4ff" stroke-width="1.05"/>
</g>
<rect x="402.6" y="149.8" width="2.2" height="50" fill="#6c6c9c"/>
<path d="M364.4,149.9 H404.6" stroke="#1c1c30" stroke-width="0.9"/>
<path d="M360,131.5 V200" stroke="#0c0c36" stroke-width="2"/>
<path d="M352.3,128.4 L355.6,131.5 L352.3,134.6 M355.6,131.5 H365.5 M364.2,128.3 L369.8,131.5 L364.2,134.7 Z" fill="none" stroke="#0e4a44" stroke-width="1.4" stroke-linejoin="round"/>
<path d="M353,162 V199.5" stroke="#555" stroke-width="0.8"/>
<path d="M350,158.5 L356,163.5 M356,158.5 L350,163.5" stroke="#333" stroke-width="0.8"/>
<rect x="351.6" y="176.6" width="2.8" height="2.8" fill="#111"/>
<text class="bn" x="372" y="132.2" textLength="32" lengthAdjust="spacingAndGlyphs">বাংলাদেশ</text>
<text class="bn" x="372" y="139.6" textLength="30" lengthAdjust="spacingAndGlyphs">আবহাওয়া</text>
<text class="bn" x="372" y="146.4" textLength="27" lengthAdjust="spacingAndGlyphs">অধিদপ্তর</text>
</g>
<g id="legend">
<rect x="347.6" y="559.2" width="237.8" height="126" rx="2.2" fill="#fff" fill-opacity="0.8" stroke="#3c5cd2" stroke-width="1.2"/>
<path d="M351,568.1 H403" stroke="#2a4a06" stroke-width="2.1"/>
<rect x="368.6" y="598" width="15.4" height="10" fill="#cdfff6" opacity="0.6"/>
<rect x="368.6" y="615.6" width="15.4" height="9.6" fill="#ffd9ee" opacity="0.6"/>
<rect x="368.6" y="632" width="15.4" height="12" fill="#ffc4f0" opacity="0.6"/>
<rect x="368.6" y="648" width="15.4" height="15" fill="#ffc6e6" opacity="0.6"/>
<rect x="368.6" y="664" width="15.4" height="16" fill="#aefcf6" opacity="0.6"/>
<text class="leg" x="409.4" y="571.9">Track</text>
<circle cx="376.6" cy="585.6" r="4.3" fill="#000"/>
<text class="leg" x="409.4" y="589.8">Observed</text>
<circle cx="376.6" cy="603.2" r="4.3" fill="#2a6a0c"/>
<text class="leg" x="409.4" y="607.4">D: Depression</text>
<circle cx="376.6" cy="620.8" r="4.3" fill="#d8b40a"/>
<text class="leg" x="409.4" y="625.0">DD: Deep Depression</text>
<circle cx="376.6" cy="638.4" r="4.3" fill="#a032f8"/>
<text class="leg" x="409.4" y="642.6">CS: Cyclonic Storm</text>
<circle cx="376.6" cy="656.0" r="4.3" fill="#7e4210"/>
<text class="leg" x="409.4" y="660.2">SCS: Severe Cyclonic Storm</text>
<circle cx="376.6" cy="673.5" r="4.3" fill="#74bcfc"/>
<text class="leg" x="409.4" y="677.7">VSCS: Very Severe Cyclonic Storm</text>
</g>
<text class="tick" x="339.2" y="613.8" text-anchor="end">12.5°N</text>
<text class="tick" x="339.2" y="535.0" text-anchor="end">15°N</text>
<text class="tick" x="339.2" y="456.2" text-anchor="end">17.5°N</text>
<text class="tick" x="339.2" y="377.5" text-anchor="end">20°N</text>
<text class="tick" x="339.2" y="298.8" text-anchor="end">22.5°N</text>
<text class="tick" x="339.2" y="220.0" text-anchor="end">25°N</text>
<text class="tick" x="339.2" y="141.2" text-anchor="end">27.5°N</text>
<text class="tick" x="404.3" y="698.5" text-anchor="middle">82°E</text>
<text class="tick" x="466.0" y="698.5" text-anchor="middle">84°E</text>
<text class="tick" x="527.8" y="698.5" text-anchor="middle">86°E</text>
<text class="tick" x="589.5" y="698.5" text-anchor="middle">88°E</text>
<text class="tick" x="651.2" y="698.5" text-anchor="middle">90°E</text>
<text class="tick" x="713.0" y="698.5" text-anchor="middle">92°E</text>
<text class="tick" x="774.7" y="698.5" text-anchor="middle">94°E</text>
</svg>
</body>
</html>
